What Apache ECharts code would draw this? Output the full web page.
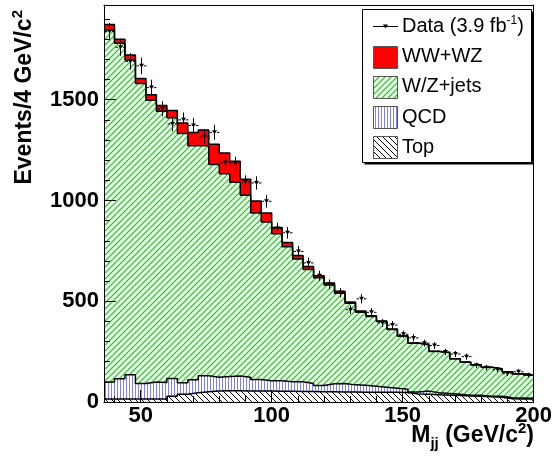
<!DOCTYPE html>
<html><head><meta charset="utf-8">
<script src="https://cdn.jsdelivr.net/npm/echarts@6/dist/echarts.min.js"></script>
<style>html,body{margin:0;padding:0;background:#fff}#c{width:555px;height:464px}</style>
</head><body><div id="c"></div>
<script>
// ---- data ----
const binLow = [36,40,44,48,52,56,60,64,68,72,76,80,84,88,92,96,100,104,108,112,116,120,124,128,132,136,140,144,148,152,156,160,164,168,172,176,180,184,188,192,196];
const binWidth = 4;
const topBkg = [15,15,15,15,15,15,28,38,46,51,55,56,56,55,54,54,53,53,52,52,51,51,50,50,49,49,48,48,47,40,38,36,34,32,30,28,26,24,16,15,15];
const qcdBkg = [84,100,120,77,84,82,88,58,64,79,68,71,73,68,58,52,53,47,48,40,31,39,42,35,34,29,25,20,16,10,16,10,8,6,4,6,3,4,5,5,4];
const wzJets = [1747,1665,1562,1488,1398,1346,1294,1236,1162,1142,1056,1006,961,903,826,787,729,670,610,565,534,491,448,405,362,346,326,292,264,242,230,205,202,176,163,150,143,136,128,119,112];
const wwWz = [27,20,25,25,28,28,36,53,65,78,100,103,105,79,60,45,31,22,17,16,11,10,10,6,7,4,3,2,1,1,1,1,1,1,1,1,1,1,1,1,1];
const dataVals = [1838,1760,1690,1668,1560,1455,1380,1400,1372,1316,1338,1188,1183,1092,1087,996,861,840,747,690,626,584,542,458,512,445,392,382,336,318,292,280,248,238,225,182,170,160,140,150,133];
const dataErr = [43,42,41,41,39,38,37,37,37,36,37,34,34,33,33,32,29,29,27,26,25,24,23,21,23,21,20,20,18,18,17,17,16,15,15,13,13,13,12,12,12];
const xMajorTicks = [50,100,150,200];
const xMinorTicks = [40,60,70,80,90,110,120,130,140,160,170,180,190];
const yMajorTicks = [0,500,1000,1500];
const yMinorTicks = [100,200,300,400,600,700,800,900,1100,1200,1300,1400,1600,1700,1800,1900];
const legendNames = ['Data (3.9 fb', 'WW+WZ', 'W/Z+jets', 'QCD', 'Top'];

const FONT = '"Liberation Sans", Arial, Helvetica, sans-serif';

// ---- fill patterns ----
function hatch(w, h, draw) {
  const c = document.createElement('canvas');
  c.width = w; c.height = h;
  const g = c.getContext('2d');
  g.fillStyle = '#fff'; g.fillRect(0, 0, w, h);
  draw(g);
  return { image: c, repeat: 'repeat' };
}
const greenFill = hatch(6, 6, g => {
  g.strokeStyle = '#10dd10'; g.lineWidth = 1.3; g.beginPath();
  g.moveTo(-1, 7); g.lineTo(7, -1); g.moveTo(-1, 1); g.lineTo(1, -1); g.moveTo(5, 7); g.lineTo(7, 5);
  g.stroke();
});
const topFill = hatch(6, 6, g => {
  g.strokeStyle = '#000'; g.lineWidth = 1; g.beginPath();
  g.moveTo(-1, -1); g.lineTo(7, 7); g.moveTo(5, -1); g.lineTo(7, 1); g.moveTo(-1, 5); g.lineTo(1, 7);
  g.stroke();
});
const qcdFill = hatch(3, 1, g => { g.fillStyle = '#7d7dff'; g.fillRect(0, 0, 1, 1); });
const redFill = '#ff0000';

// ---- stacking ----
const layers = [topBkg, qcdBkg, wzJets, wwWz];
const fills = [topFill, qcdFill, greenFill, redFill];
const cum = [];
let base = binLow.map(() => 0);
layers.forEach(arr => {
  const top = base.map((b, i) => b + arr[i]);
  cum.push({ bottom: base, top: top });
  base = top;
});
const xMin = binLow[0], xMax = binLow[binLow.length - 1] + binWidth;

const series = [];
cum.forEach((L, k) => {
  series.push({
    type: 'custom', xAxisIndex: 0, yAxisIndex: 0, z: 2, silent: true,
    data: binLow.map((x, i) => [x, x + binWidth, L.bottom[i], L.top[i]]),
    encode: { x: [0, 1], y: [2, 3] },
    renderItem(params, api) {
      const a = api.coord([api.value(0), api.value(2)]);
      const b = api.coord([api.value(1), api.value(3)]);
      const x0 = Math.round(a[0]), x1 = Math.round(b[0]);
      const y0 = Math.round(a[1]), y1 = Math.round(b[1]);
      return { type: 'rect', shape: { x: x0, y: y1, width: x1 - x0, height: y0 - y1 },
               style: { fill: fills[k], stroke: null } };
    }
  });
});
cum.forEach((L, k) => {
  series.push({
    type: 'line', xAxisIndex: 0, yAxisIndex: 0, z: 3, silent: true, step: 'end',
    symbol: 'none', animation: false,
    data: binLow.map((x, i) => [x, L.top[i]]).concat([[xMax, L.top[L.top.length - 1]]]),
    lineStyle: { color: '#000', width: 1.5 }
  });
});
series.push({
  type: 'custom', xAxisIndex: 0, yAxisIndex: 0, z: 5, silent: true,
  data: binLow.map((x, i) => [x + binWidth / 2, dataVals[i], dataErr[i]]),
  encode: { x: 0, y: 1 },
  renderItem(params, api) {
    const c = api.coord([api.value(0), api.value(1)]);
    const lo = api.coord([api.value(0), api.value(1) - api.value(2)]);
    const hi = api.coord([api.value(0), api.value(1) + api.value(2)]);
    const cx = Math.round(c[0]) + 0.5, cy = c[1];
    const st = { stroke: '#000', lineWidth: 1 };
    return { type: 'group', children: [
      { type: 'line', shape: { x1: cx, y1: lo[1], x2: cx, y2: hi[1] }, style: st },
      { type: 'line', shape: { x1: cx - 5, y1: cy, x2: cx - 2.5, y2: cy }, style: st },
      { type: 'line', shape: { x1: cx + 2.5, y1: cy, x2: cx + 5, y2: cy }, style: st },
      { type: 'polygon', shape: { points: [[cx - 2.5, cy - 2], [cx + 2.5, cy - 2], [cx, cy + 2]] }, style: { fill: '#000' } }
    ] };
  }
});

const lineBlk = { color: '#000', width: 1 };
const noSplit = { show: false };
const plain = v => String(v);
const option = {
  animation: false,
  backgroundColor: '#fff',
  textStyle: { fontFamily: FONT },
  grid: { left: 104, right: 19, top: 5, bottom: 62, containLabel: false },
  xAxis: [
    { type: 'value', min: xMin, max: xMax, position: 'bottom', z: 10,
      axisLine: { show: true, onZero: false, lineStyle: lineBlk },
      axisTick: { show: true, inside: true, length: 12, customValues: xMajorTicks, lineStyle: lineBlk },
      axisLabel: { customValues: xMajorTicks, formatter: plain, fontSize: 22, fontWeight: 'bold', fontFamily: FONT, color: '#000', margin: 3 },
      splitLine: noSplit },
    { type: 'value', min: xMin, max: xMax, position: 'bottom', z: 10,
      axisLine: { show: false, onZero: false },
      axisTick: { show: true, inside: true, length: 6, customValues: xMinorTicks, lineStyle: lineBlk },
      axisLabel: { show: false }, splitLine: noSplit },
    { type: 'value', min: xMin, max: xMax, position: 'top', z: 10,
      axisLine: { show: true, onZero: false, lineStyle: lineBlk },
      axisTick: { show: false }, axisLabel: { show: false }, splitLine: noSplit }
  ],
  yAxis: [
    { type: 'value', min: 0, max: 1970, interval: 500, position: 'left', z: 10,
      axisLine: { show: true, onZero: false, lineStyle: lineBlk },
      axisTick: { show: true, inside: true, length: 12, customValues: yMajorTicks, lineStyle: lineBlk },
      axisLabel: { customValues: yMajorTicks, formatter: plain, fontSize: 22, fontWeight: 'bold', fontFamily: FONT, color: '#000', margin: 5 },
      splitLine: noSplit },
    { type: 'value', min: 0, max: 1970, position: 'left', z: 10,
      axisLine: { show: false, onZero: false },
      axisTick: { show: true, inside: true, length: 6, customValues: yMinorTicks, lineStyle: lineBlk },
      axisLabel: { show: false }, splitLine: noSplit },
    { type: 'value', min: 0, max: 1970, position: 'right', z: 10,
      axisLine: { show: true, onZero: false, lineStyle: lineBlk },
      axisTick: { show: false }, axisLabel: { show: false }, splitLine: noSplit }
  ],
  series: series
};

// ---- legend & titles (graphic) ----
const rowY = [26.5, 56.5, 86.8, 117.1, 147.4];
const legendEls = [
  { type: 'rect', shape: { x: 364.5, y: 11.5, width: 169, height: 153 }, style: { fill: '#000' }, z: 20 },
  { type: 'rect', shape: { x: 362.5, y: 9.5, width: 169, height: 153 }, style: { fill: '#fff', stroke: '#000', lineWidth: 1 }, z: 21 },
  { type: 'line', shape: { x1: 373, y1: rowY[0], x2: 398, y2: rowY[0] }, style: { stroke: '#000', lineWidth: 1 }, z: 22 },
  { type: 'polygon', shape: { points: [[383, rowY[0] - 2], [388, rowY[0] - 2], [385.5, rowY[0] + 2]] }, style: { fill: '#000' }, z: 22 },
  { type: 'text', x: 402, y: rowY[0], z: 22,
    style: { text: '{n|' + legendNames[0] + '}{p|-1}{n|)}', align: 'left', verticalAlign: 'middle', fill: '#000',
      rich: { n: { fontSize: 20, fontFamily: FONT, lineHeight: 24, verticalAlign: 'middle', fill: '#000' },
              p: { fontSize: 12, fontFamily: FONT, lineHeight: 12, verticalAlign: 'top', fill: '#000' } } } }
];
[redFill, greenFill, qcdFill, topFill].forEach((f, k) => {
  const cy = rowY[k + 1];
  legendEls.push({ type: 'rect', shape: { x: 373.5, y: Math.round(cy - 11) + 0.5, width: 24, height: 22 },
    style: { fill: f, stroke: '#555', lineWidth: 1 }, z: 22 });
  legendEls.push({ type: 'text', x: 402, y: cy, z: 22,
    style: { text: legendNames[k + 1], fontSize: 20, fontFamily: FONT, fill: '#000', align: 'left', verticalAlign: 'middle' } });
});
const titleEls = [
  { type: 'text', x: 534, y: 436, z: 22,
    style: { text: '{n|M}{s|jj}{n| (GeV/c}{p|2}{n|)}', align: 'right', verticalAlign: 'middle', fill: '#000',
      rich: { n: { fontSize: 23, fontWeight: 'bold', fontFamily: FONT, lineHeight: 30, verticalAlign: 'middle', fill: '#000' },
              s: { fontSize: 15, fontWeight: 'bold', fontFamily: FONT, lineHeight: 14, verticalAlign: 'bottom', fill: '#000' },
              p: { fontSize: 15, fontWeight: 'bold', fontFamily: FONT, lineHeight: 14, verticalAlign: 'top', fill: '#000' } } } },
  { type: 'text', x: 25, y: 10, rotation: Math.PI / 2, z: 22,
    style: { text: '{n|Events/4 GeV/c}{p|2}', align: 'right', verticalAlign: 'middle', fill: '#000',
      rich: { n: { fontSize: 23, fontWeight: 'bold', fontFamily: FONT, lineHeight: 30, verticalAlign: 'middle', fill: '#000' },
              p: { fontSize: 15, fontWeight: 'bold', fontFamily: FONT, lineHeight: 15, verticalAlign: 'top', fill: '#000' } } } }
];
option.graphic = { elements: legendEls.concat(titleEls) };

const chart = echarts.init(document.getElementById('c'), null, { renderer: 'canvas' });
chart.setOption(option);
</script>
</body></html>
